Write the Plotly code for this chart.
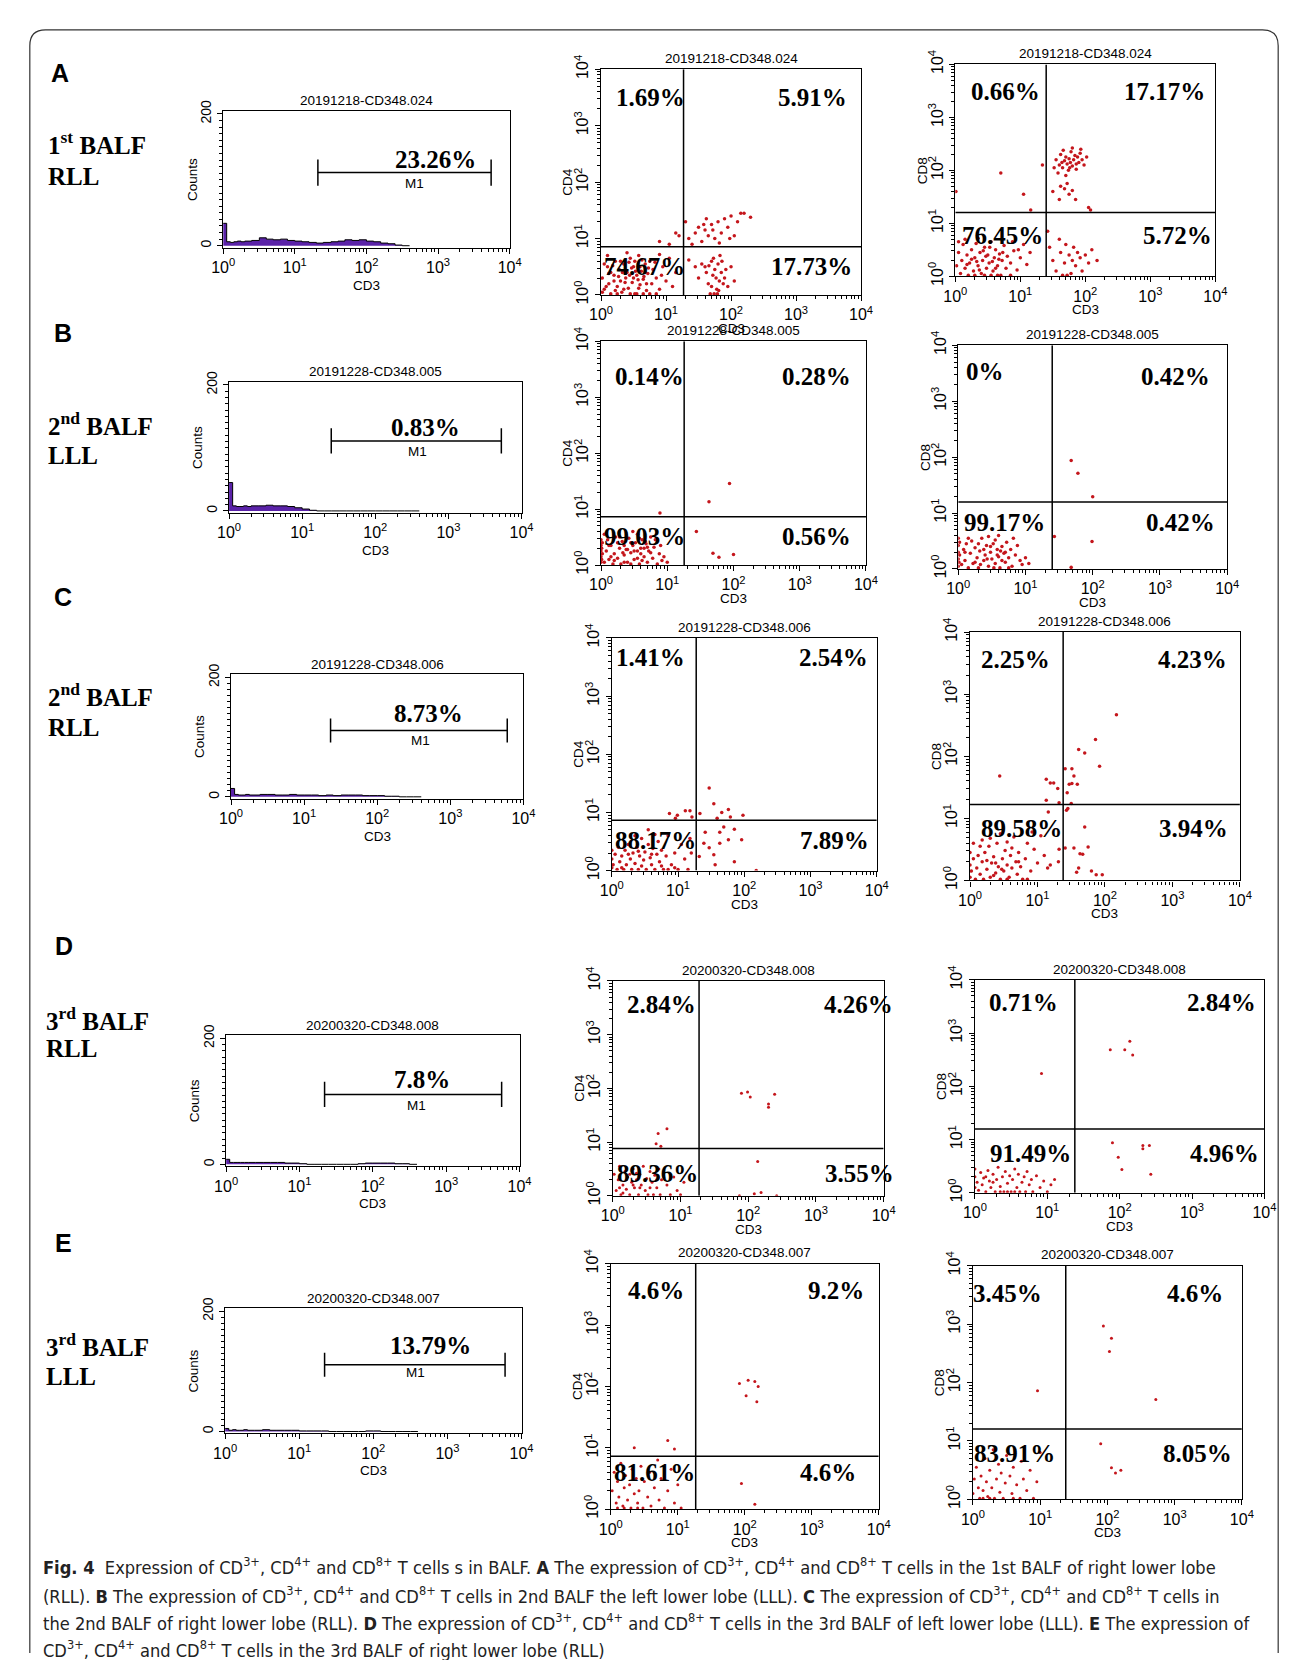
import plotly.graph_objects as go

# ============================ DATA ============================
rows = ["A", "B", "C", "D", "E"]
row_line1 = ["1<sup>st</sup> BALF", "2<sup>nd</sup> BALF", "2<sup>nd</sup> BALF", "3<sup>rd</sup> BALF", "3<sup>rd</sup> BALF"]
row_line2 = ["RLL", "LLL", "RLL", "RLL", "LLL"]
sample_ids = ["20191218-CD348.024", "20191228-CD348.005", "20191228-CD348.006",
              "20200320-CD348.008", "20200320-CD348.007"]

# histogram (CD3) bins and counts
hist_cd3 = [1.0, 1.12, 1.26, 1.41, 1.58, 1.78, 2.0, 2.5, 3.2, 4.0, 5.0, 6.3, 7.9, 10, 12.6,
            15.8, 20, 25, 32, 40, 50, 63, 79, 100, 126, 158, 200, 251, 316, 400]
hist_A = [34, 6, 5, 6, 7, 6, 7, 8, 12, 10, 9, 10, 8, 7, 6, 5, 4, 5, 6, 7, 9, 8, 9, 7, 6, 4, 3, 1, 0, 0]
hist_B = [45, 8, 7, 7, 8, 7, 8, 8, 9, 8, 8, 7, 5, 3, 1, 0, 0, 0, 0, 0, 0, 0, 0, 0, 0, 0, 0, 0, 0, 0]
hist_C = [14, 4, 3, 3, 4, 3, 3, 4, 4, 3, 3, 4, 3, 3, 3, 2, 3, 2, 3, 3, 3, 2, 2, 2, 1, 1, 0, 0, 0, 0]
hist_D = [8, 3, 3, 3, 3, 3, 3, 3, 3, 3, 3, 2, 2, 1, 0, 0, 0, 0, 0, 0, 0, 1, 2, 2, 2, 2, 1, 1, 0, 0]
hist_E = [5, 2, 3, 2, 2, 3, 2, 2, 3, 2, 2, 2, 2, 1, 1, 1, 1, 0, 0, 0, 0, 0, 1, 1, 0, 0, 0, 0, 0, 0]
hist_counts = [hist_A, hist_B, hist_C, hist_D, hist_E]
hist_pct = ["23.26%", "0.83%", "8.73%", "7.8%", "13.79%"]
m1_lo = [21, 25, 23, 22, 22]
m1_hi = [5500, 5300, 6000, 5700, 6000]

# quadrant gates (CD3 threshold, CD4/CD8 threshold)
gate_cd4_x = [18.6, 18.0, 18.8, 18.8, 18.5]
gate_cd4_y = [7.2, 7.3, 7.3, 7.6, 7.3]
gate_cd8_x = [25, 25, 24, 24, 24]
gate_cd8_y = [16, 15.8, 16.7, 15.9, 16]

# quadrant percentages: upper-left, upper-right, lower-left, lower-right
pct_cd4 = [["1.69%", "5.91%", "74.67%", "17.73%"],
           ["0.14%", "0.28%", "99.03%", "0.56%"],
           ["1.41%", "2.54%", "88.17%", "7.89%"],
           ["2.84%", "4.26%", "89.36%", "3.55%"],
           ["4.6%", "9.2%", "81.61%", "4.6%"]]
pct_cd8 = [["0.66%", "17.17%", "76.45%", "5.72%"],
           ["0%", "0.42%", "99.17%", "0.42%"],
           ["2.25%", "4.23%", "89.58%", "3.94%"],
           ["0.71%", "2.84%", "91.49%", "4.96%"],
           ["3.45%", "4.6%", "83.91%", "8.05%"]]

# events, as (log10 CD3, log10 CD4/CD8)
A_cd4 = [(0.02,0.30),(0.05,0.10),(0.10,0.50),(0.12,0.20),(0.15,0.02),(0.20,0.35),(0.22,0.60),(0.25,0.15),(0.28,0.45),(0.30,0.25),
         (0.32,0.05),(0.35,0.55),(0.38,0.30),(0.40,0.40),(0.42,0.12),(0.45,0.65),(0.48,0.22),(0.50,0.50),(0.52,0.02),(0.55,0.35),
         (0.58,0.70),(0.60,0.18),(0.62,0.42),(0.65,0.28),(0.68,0.55),(0.70,0.08),(0.72,0.38),(0.75,0.60),(0.78,0.20),(0.80,0.45),
         (0.85,0.30),(0.90,0.10),(0.95,0.50),(1.00,0.25),(1.05,0.65),(1.10,0.15),(0.05,0.55),(0.15,0.40),(0.25,0.02),(0.35,0.10),
         (0.45,0.02),(0.55,0.02),(0.65,0.02),(0.75,0.02),(0.85,0.02),(0.30,0.60),(0.40,0.75),(0.50,0.30),(0.60,0.50),(0.70,0.20),
         (0.20,0.25),(0.33,0.40),(0.47,0.48),(0.58,0.12),(0.66,0.33),(0.10,0.70),(0.90,0.72),(1.15,0.40),(0.52,0.60),(0.44,0.35),
         (0.08,0.15),(0.18,0.52),(0.27,0.33),(0.37,0.22),(0.43,0.58),(0.53,0.42),(0.63,0.62),(0.73,0.48),(0.83,0.58),(0.93,0.35),
         (0.02,0.05),(0.12,0.38),(0.22,0.08),(0.57,0.27),(0.68,0.40),
         (1.50,0.30),(1.60,0.50),(1.65,0.20),(1.70,0.60),(1.72,0.35),(1.75,0.45),(1.78,0.10),(1.80,0.55),(1.82,0.25),(1.85,0.40),
         (1.90,0.30),(1.95,0.15),(2.00,0.50),(1.68,0.02),(1.74,0.02),(1.79,0.02),(1.83,0.70),(1.62,0.40),(1.70,0.15),(1.77,0.30),
         (1.86,0.60),(1.92,0.45),(1.55,0.55),(1.45,0.50),(1.35,0.62),(2.05,0.25),(1.73,0.65),(1.81,0.08),(1.66,0.52),(1.88,0.20),
         (1.30,1.30),(1.35,1.00),(1.45,1.10),(1.50,1.20),(1.55,0.95),(1.60,1.15),(1.65,1.05),(1.70,1.25),(1.75,1.00),(1.80,1.30),
         (1.85,1.10),(1.90,1.35),(1.95,1.20),(2.00,1.40),(2.05,1.05),(2.10,1.30),(2.15,1.45),(2.20,1.45),(1.40,0.90),(1.58,1.25),
         (1.72,1.15),(1.82,0.92),(1.98,1.00),(2.30,1.38),(1.62,1.35),
         (0.90,0.95),(1.05,0.90),(1.15,1.10),(1.20,1.05)]
A_cd8 = [(0.02,0.20),(0.05,0.45),(0.08,0.05),(0.10,0.30),(0.12,0.60),(0.15,0.15),(0.18,0.40),(0.20,0.02),(0.22,0.25),(0.25,0.50),
         (0.28,0.10),(0.30,0.35),(0.32,0.62),(0.35,0.20),(0.38,0.45),(0.40,0.05),(0.42,0.30),(0.45,0.55),(0.48,0.15),(0.50,0.40),
         (0.52,0.25),(0.55,0.65),(0.58,0.10),(0.60,0.35),(0.62,0.50),(0.65,0.20),(0.68,0.42),(0.70,0.02),(0.72,0.30),(0.75,0.58),
         (0.78,0.15),(0.80,0.38),(0.85,0.25),(0.90,0.48),(0.95,0.12),(1.00,0.35),(1.05,0.60),(1.10,0.22),(0.15,0.70),(0.35,0.72),
         (0.55,0.02),(0.65,0.02),(0.45,0.02),(0.30,0.02),(0.85,0.02),(0.25,0.32),(0.47,0.38),(0.57,0.28),(0.37,0.12),(0.62,0.15),
         (0.73,0.45),(0.43,0.48),(0.53,0.55),(0.33,0.28),(0.67,0.32),(0.88,0.65),(0.97,0.50),(1.15,0.45),(0.05,0.65),(0.18,0.22),
         (1.55,2.20),(1.60,2.10),(1.62,2.30),(1.65,2.05),(1.68,2.18),(1.70,2.25),(1.72,2.12),(1.74,2.00),(1.75,2.22),(1.77,2.15),
         (1.78,2.35),(1.80,2.08),(1.82,2.20),(1.84,2.28),(1.86,2.12),(1.88,2.25),(1.90,2.15),(1.92,2.32),(1.95,2.20),(1.98,2.10),
         (2.02,2.25),(1.58,1.95),(1.70,1.90),(1.66,2.38),(1.80,2.42),(1.93,2.40),(1.52,2.05),(1.72,1.75),(1.68,1.65),(1.75,1.55),
         (1.62,1.70),(1.80,1.62),(1.60,1.45),(1.85,1.45),(2.05,1.30),(2.08,1.25),(1.50,1.60),(1.76,2.05),(1.64,2.15),(1.86,2.02),
         (0.70,1.95),(0.01,1.60),(1.34,2.10),(1.16,1.25),(1.05,1.55),
         (1.45,0.55),(1.50,0.30),(1.55,0.10),(1.62,0.45),(1.68,0.25),(1.70,0.60),(1.75,0.40),(1.78,0.05),(1.80,0.30),(1.82,0.55),
         (1.85,0.20),(1.88,0.45),(1.92,0.35),(1.95,0.10),(2.00,0.40),(2.05,0.25),(2.10,0.50),(2.18,0.30),(1.65,0.02),(1.72,0.02),
         (1.42,0.85),(1.60,0.70)]
B_cd4 = [(0.00,0.05),(0.00,0.15),(0.00,0.25),(0.00,0.35),(0.00,0.45),(0.01,0.10),(0.01,0.30),(0.02,0.20),(0.02,0.40),(0.05,0.05),
         (0.08,0.25),(0.10,0.45),(0.12,0.10),(0.15,0.35),(0.18,0.02),(0.20,0.20),(0.22,0.50),(0.25,0.12),(0.28,0.30),(0.30,0.02),
         (0.32,0.42),(0.35,0.18),(0.38,0.28),(0.40,0.05),(0.42,0.48),(0.45,0.22),(0.48,0.35),(0.50,0.10),(0.52,0.40),(0.55,0.25),
         (0.58,0.02),(0.60,0.30),(0.62,0.45),(0.65,0.15),(0.68,0.38),(0.70,0.05),(0.72,0.25),(0.75,0.50),(0.78,0.12),(0.80,0.32),
         (0.85,0.02),(0.88,0.20),(0.92,0.08),(0.95,0.15),(1.00,0.05),(0.15,0.15),(0.25,0.40),(0.35,0.05),(0.45,0.02),(0.55,0.55),
         (0.65,0.30),(0.45,0.40),(0.35,0.35),(0.55,0.12),(0.60,0.20),(0.70,0.32),(0.62,0.08),(0.28,0.50),(0.05,0.55),(0.12,0.35),
         (0.40,0.28),(0.50,0.25),(0.58,0.48),(0.67,0.42),(0.75,0.22),(0.20,0.08),(0.33,0.22),(0.82,0.45),(0.90,0.35),(0.48,0.60),
         (0.89,0.93),(1.44,0.60),(1.69,0.21),(1.78,0.14),(2.00,0.19),(1.63,1.13),(1.94,1.46)]
B_cd8 = [(0.00,0.05),(0.00,0.18),(0.00,0.30),(0.00,0.42),(0.00,0.55),(0.01,0.12),(0.02,0.25),(0.02,0.48),(0.05,0.08),(0.08,0.35),
         (0.10,0.15),(0.12,0.45),(0.15,0.02),(0.18,0.28),(0.20,0.50),(0.22,0.10),(0.25,0.38),(0.28,0.20),(0.30,0.02),(0.32,0.32),
         (0.35,0.55),(0.38,0.15),(0.40,0.25),(0.42,0.42),(0.45,0.05),(0.48,0.30),(0.50,0.18),(0.52,0.45),(0.55,0.10),(0.58,0.35),
         (0.60,0.22),(0.62,0.02),(0.65,0.40),(0.68,0.28),(0.70,0.12),(0.72,0.48),(0.75,0.20),(0.78,0.35),(0.80,0.05),(0.85,0.25),
         (0.88,0.42),(0.92,0.15),(0.95,0.08),(1.00,0.20),(1.05,0.10),(0.15,0.55),(0.30,0.45),(0.45,0.58),(0.55,0.52),(0.65,0.15),
         (0.48,0.40),(0.58,0.25),(0.63,0.32),(0.38,0.35),(0.25,0.12),(0.70,0.30),(0.75,0.02),(0.53,0.02),(0.43,0.18),(0.33,0.08),
         (0.82,0.55),(0.60,0.60),(0.10,0.30),
         (1.68,1.94),(1.78,1.71),(2.00,1.29),(1.43,0.58),(1.99,0.49),(1.68,0.03)]
C_cd4 = [(0.00,0.05),(0.00,0.20),(0.00,0.35),(0.02,0.10),(0.05,0.28),(0.08,0.02),(0.10,0.40),(0.12,0.15),(0.15,0.25),(0.18,0.02),
         (0.20,0.35),(0.22,0.10),(0.25,0.45),(0.28,0.20),(0.30,0.02),(0.32,0.30),(0.35,0.12),(0.38,0.40),(0.40,0.02),(0.42,0.25),
         (0.45,0.55),(0.48,0.18),(0.50,0.32),(0.52,0.02),(0.55,0.45),(0.58,0.22),(0.60,0.10),(0.62,0.38),(0.65,0.02),(0.68,0.28),
         (0.70,0.50),(0.72,0.15),(0.75,0.35),(0.78,0.02),(0.82,0.25),(0.85,0.60),(0.90,0.10),(0.95,0.30),(1.00,0.02),(1.05,0.45),
         (1.10,0.20),(0.35,0.60),(0.55,0.70),(0.65,0.62),(0.25,0.28),(0.40,0.33),(0.60,0.28),(0.15,0.05),(0.45,0.08),(0.75,0.08),
         (0.85,0.02),(0.95,0.05),(1.15,0.02),(1.20,0.30),(1.18,0.55),
         (1.47,1.42),(1.54,1.15),(1.66,1.00),(1.76,1.05),(1.98,0.95),(1.79,0.92),(1.33,0.98),(1.59,0.90),(1.41,0.66),(1.63,0.66),
         (1.69,0.75),(1.85,0.71),(1.76,0.53),(1.96,0.53),(1.63,0.47),(1.47,0.39),(1.54,0.27),(1.85,0.15),(1.56,0.10),(2.18,0.00),
         (1.32,0.24),(1.39,0.47),(0.87,0.98),(0.99,0.95),(1.11,1.03),(1.18,1.03),(1.21,0.92),(0.96,0.90)]
C_cd8 = [(0.00,0.05),(0.00,0.25),(0.00,0.45),(0.02,0.15),(0.05,0.35),(0.08,0.02),(0.10,0.20),(0.12,0.40),(0.15,0.10),(0.18,0.30),
         (0.20,0.02),(0.22,0.45),(0.25,0.18),(0.28,0.55),(0.30,0.05),(0.32,0.28),(0.35,0.38),(0.38,0.12),(0.40,0.60),(0.42,0.22),
         (0.45,0.02),(0.48,0.35),(0.50,0.15),(0.52,0.48),(0.55,0.25),(0.58,0.05),(0.60,0.40),(0.62,0.20),(0.65,0.70),(0.68,0.30),
         (0.70,0.10),(0.72,0.45),(0.75,0.22),(0.78,0.02),(0.82,0.35),(0.85,0.60),(0.90,0.15),(0.95,0.50),(1.00,0.28),(1.05,0.72),
         (1.10,0.40),(0.30,0.68),(0.45,0.75),(0.55,0.62),(0.25,0.32),(0.38,0.28),(0.15,0.55),(0.62,0.52),(0.72,0.30),(0.47,0.18),
         (0.35,0.08),(0.55,0.02),(0.18,0.65),(0.85,0.02),(1.15,0.20),(0.92,0.78),(0.05,0.60),
         (2.17,2.67),(1.86,2.27),(1.61,2.11),(1.70,2.05),(1.92,1.84),(1.41,1.80),(1.51,1.80),(1.54,1.68),(1.47,1.55),(1.51,1.56),
         (1.59,1.55),(1.44,1.41),(1.50,1.24),(1.43,1.13),(1.45,1.16),(0.44,1.68),(1.13,1.63),(1.19,1.57),(1.24,1.57),(1.30,1.48),
         (1.13,1.29),(1.32,1.25),(1.70,0.86),(1.54,0.52),(1.63,0.43),(1.75,0.54),(1.67,0.42),(1.61,0.20),(1.58,0.13),(1.80,0.15),
         (1.87,0.09),(1.96,0.09),(1.41,0.52),(1.16,1.10),(1.32,0.50),(1.31,0.30),(1.19,0.25)]
D_cd4 = [(0.02,0.40),(0.05,0.10),(0.08,0.30),(0.10,0.55),(0.12,0.02),(0.15,0.20),(0.18,0.45),(0.20,0.12),(0.22,0.35),(0.25,0.02),
         (0.28,0.25),(0.30,0.50),(0.32,0.15),(0.35,0.30),(0.38,0.02),(0.40,0.40),(0.42,0.20),(0.45,0.55),(0.48,0.10),(0.50,0.32),
         (0.52,0.02),(0.55,0.45),(0.58,0.25),(0.60,0.02),(0.62,0.38),(0.65,0.15),(0.68,0.50),(0.70,0.02),(0.72,0.30),(0.75,0.42),
         (0.80,0.20),(0.85,0.02),(0.90,0.35),(0.95,0.10),(1.00,0.02),(1.05,0.25),(0.30,0.20),(0.40,0.15),(0.35,0.42),(0.20,0.30),
         (0.15,0.05),(0.55,0.15),(0.65,0.30),(0.25,0.40),(0.10,0.15),
         (1.90,1.91),(1.99,1.93),(2.03,1.84),(2.30,1.71),(2.30,1.65),(2.39,1.89),(2.14,0.64),(1.87,0.00),(2.09,0.04),(2.19,0.06),
         (2.42,0.00),(0.67,1.16),(0.80,1.25),(0.64,0.97),(0.71,0.92)]
D_cd8 = [(0.00,0.10),(0.00,0.30),(0.00,0.45),(0.03,0.20),(0.05,0.05),(0.08,0.38),(0.10,0.15),(0.12,0.28),(0.15,0.02),(0.18,0.42),
         (0.20,0.22),(0.22,0.10),(0.25,0.35),(0.28,0.02),(0.30,0.25),(0.32,0.48),(0.35,0.12),(0.38,0.30),(0.40,0.02),(0.42,0.40),
         (0.45,0.18),(0.48,0.32),(0.50,0.02),(0.52,0.25),(0.55,0.45),(0.58,0.10),(0.60,0.35),(0.62,0.02),(0.65,0.20),(0.68,0.30),
         (0.70,0.02),(0.72,0.40),(0.75,0.15),(0.78,0.25),(0.80,0.02),(0.85,0.32),(0.90,0.10),(0.95,0.22),(1.00,0.02),(1.05,0.15),
         (1.10,0.25),(0.45,0.02),(0.55,0.02),(0.35,0.02),(0.25,0.20),(0.15,0.30),
         (1.87,2.69),(2.07,2.69),(2.14,2.85),(2.18,2.59),(0.92,2.24),(1.90,0.94),(2.32,0.89),(2.32,0.83),(2.41,0.89),(1.98,0.67),
         (2.03,0.44),(2.43,0.35)]
E_cd4 = [(0.02,0.30),(0.05,0.60),(0.08,0.10),(0.10,0.45),(0.12,0.20),(0.15,0.75),(0.18,0.05),(0.20,0.35),(0.22,0.55),(0.25,0.15),
         (0.28,0.40),(0.30,0.02),(0.32,0.65),(0.35,0.25),(0.38,0.50),(0.40,0.10),(0.42,0.30),(0.45,0.70),(0.48,0.02),(0.50,0.45),
         (0.55,0.20),(0.58,0.60),(0.60,0.05),(0.65,0.35),(0.70,0.80),(0.72,0.15),(0.75,0.50),(0.80,0.02),(0.85,0.30),(0.90,0.65),
         (0.95,0.10),(1.00,0.40),(1.05,0.02),(0.10,0.02),(0.20,0.02),(0.40,0.02),
         (1.92,2.05),(2.05,2.10),(2.15,2.08),(2.20,2.00),(2.02,1.85),(2.18,1.75),(0.35,1.00),(0.85,1.12),(0.95,0.98),(1.95,0.42),
         (2.15,0.08)]
E_cd8 = [(0.00,0.10),(0.02,0.35),(0.05,0.55),(0.08,0.20),(0.10,0.02),(0.12,0.40),(0.15,0.15),(0.18,0.70),(0.20,0.30),(0.22,0.05),
         (0.25,0.50),(0.28,0.20),(0.30,0.85),(0.32,0.02),(0.35,0.35),(0.38,0.60),(0.40,0.12),(0.42,0.45),(0.45,0.02),(0.48,0.28),
         (0.50,0.75),(0.55,0.40),(0.58,0.10),(0.60,0.55),(0.65,0.25),(0.70,0.02),(0.72,0.65),(0.75,0.35),(0.80,0.15),(0.85,0.50),
         (0.90,0.02),(0.95,0.30),(1.00,0.80),(0.15,0.02),(0.25,0.02),(0.60,0.02),
         (1.94,2.97),(2.06,2.76),(2.03,2.53),(2.72,1.71),(0.96,1.86),(2.06,0.54),(2.12,0.45),(2.20,0.50),(1.90,0.95)]
events_cd4 = [A_cd4, B_cd4, C_cd4, D_cd4, E_cd4]
events_cd8 = [A_cd8, B_cd8, C_cd8, D_cd8, E_cd8]

log_ticks = [1, 10, 100, 1000, 10000]
log_ticktext = ["10<sup>0</sup>", "10<sup>1</sup>", "10<sup>2</sup>", "10<sup>3</sup>", "10<sup>4</sup>"]

caption_lines = [
    "<b>Fig. 4</b>  Expression of CD<sup>3+</sup>, CD<sup>4+</sup> and CD<sup>8+</sup> T cells s in BALF. <b>A</b> The expression of CD<sup>3+</sup>, CD<sup>4+</sup> and CD<sup>8+</sup> T cells in the 1st BALF of right lower lobe",
    "(RLL). <b>B</b> The expression of CD<sup>3+</sup>, CD<sup>4+</sup> and CD<sup>8+</sup> T cells in 2nd BALF the left lower lobe (LLL). <b>C</b> The expression of CD<sup>3+</sup>, CD<sup>4+</sup> and CD<sup>8+</sup> T cells in",
    "the 2nd BALF of right lower lobe (RLL). <b>D</b> The expression of CD<sup>3+</sup>, CD<sup>4+</sup> and CD<sup>8+</sup> T cells in the 3rd BALF of left lower lobe (LLL). <b>E</b> The expression of",
    "CD<sup>3+</sup>, CD<sup>4+</sup> and CD<sup>8+</sup> T cells in the 3rd BALF of right lower lobe (RLL)",
]

# ============================ LAYOUT (pixels) ============================
W, H = 1292, 1660
box_hist = [(207, 499, 90, 229), (213, 511, 365, 498), (215, 513, 662, 788), (210, 509, 1028, 1161), (209, 511, 1305, 1432)]
box_cd4 = [(592, 857, 48, 277), (592, 862, 324, 551), (603, 873, 625, 861), (604, 880, 973, 1191), (602, 875, 1260, 1509)]
box_cd8 = [(953, 1218, 43, 258), (956, 1230, 328, 555), (968, 1243, 619, 871), (973, 1268, 972, 1188), (971, 1245, 1262, 1499)]
row_letter_pos = [(41, 52), (44, 316), (44, 583), (45, 938), (44, 1239)]
row_text_pos = [(27, 123, 157), (27, 408, 440), (27, 683, 716), (24, 1012, 1042), (24, 1342, 1374)]
hist_pct_pos = [(423, 140), (413, 411), (416, 702), (410, 1073), (418, 1343)]
m1_pos = [(402, 164), (405, 436), (408, 729), (404, 1099), (403, 1370)]
pct_cd4_pos = [[(642, 77), (808, 77), (636, 248), (806, 248)],
               [(641, 360), (812, 360), (636, 522), (812, 522)],
               [(642, 645), (829, 645), (648, 830), (830, 830)],
               [(654, 997), (854, 997), (650, 1168), (855, 1168)],
               [(648, 1287), (831, 1287), (646, 1472), (823, 1472)]]
pct_cd8_pos = [[(1004, 71), (1166, 71), (1001, 217), (1179, 217)],
               [(983, 355), (1177, 360), (1003, 508), (1182, 508)],
               [(1014, 647), (1195, 647), (1020, 818), (1196, 818)],
               [(1023, 995), (1224, 995), (1030, 1148), (1227, 1148)],
               [(1006, 1290), (1197, 1290), (1013, 1453), (1200, 1453)]]
caption_y = [1567, 1596, 1623, 1651]
dot_size = [3.5, 3.5, 3.5, 3, 3]
M1_LEVEL, M1_TICK = 111, 20

SANS = "Liberation Sans, Arial, sans-serif"
SERIF = "Liberation Serif, Times New Roman, serif"
NARROW = "Liberation Sans Narrow, DejaVu Sans Condensed, Arial Narrow, sans-serif"
DOT_RED = "#c4161c"
PURPLE = "#5a22a8"


def px(x):
    return x / W


def py(y):
    return 1 - y / H


def ann(text, x, y, size, family=SANS, xanchor="center", yanchor="middle", angle=0, color="black"):
    return dict(text=text, x=px(x), y=py(y), xref="paper", yref="paper", showarrow=False,
                xanchor=xanchor, yanchor=yanchor, textangle=angle,
                font=dict(family=family, size=size, color=color))


fig = go.Figure()
layout = dict(width=W, height=H, margin=dict(l=0, r=0, t=0, b=0), paper_bgcolor="white",
              plot_bgcolor="white", showlegend=False)
annotations = []
shapes = []

base_axis = dict(showline=True, linecolor="black", linewidth=1.3, mirror=True, ticks="outside",
                 ticklen=5, tickwidth=1, tickcolor="black", showgrid=False, zeroline=False,
                 tickfont=dict(family=SANS, size=16, color="black"))
log_axis = dict(base_axis, type="log", range=[0, 4], tickmode="array", tickvals=log_ticks,
                ticktext=log_ticktext,
                minor=dict(ticks="outside", ticklen=3, tickcolor="black", dtick="D1", showgrid=False))

axis_n = [0]


def new_axes(box, xa, ya):
    axis_n[0] += 1
    n = axis_n[0]
    s = "" if n == 1 else str(n)
    l, r, t, b = box
    layout["xaxis" + s] = dict(xa, domain=[px(l), px(r)], anchor="y" + s)
    layout["yaxis" + s] = dict(ya, domain=[py(b), py(t)], anchor="x" + s)
    return "x" + s, "y" + s


for i in range(5):
    # ---------- histogram ----------
    hist_y_axis = dict(base_axis, range=[-3, 205], tickmode="array", tickvals=[0, 200], tickangle=-90,
                       tickfont=dict(family=SANS, size=14, color="black"),
                       minor=dict(ticks="outside", ticklen=3, tickcolor="black", tickmode="linear",
                                  tick0=0, dtick=10, showgrid=False))
    xr, yr = new_axes(box_hist[i], log_axis, hist_y_axis)
    fig.add_trace(go.Scatter(x=hist_cd3, y=hist_counts[i], mode="lines", xaxis=xr, yaxis=yr,
                             line=dict(shape="hv", color="black", width=1), fill="tozeroy",
                             fillcolor=PURPLE, hoverinfo="skip"))
    lo, hi = m1_lo[i], m1_hi[i]
    fig.add_trace(go.Scatter(x=[lo, lo, None, lo, hi, None, hi, hi],
                             y=[M1_LEVEL - M1_TICK, M1_LEVEL + M1_TICK, None, M1_LEVEL, M1_LEVEL, None,
                                M1_LEVEL - M1_TICK, M1_LEVEL + M1_TICK],
                             mode="lines", line=dict(color="black", width=1.5), xaxis=xr, yaxis=yr,
                             hoverinfo="skip"))
    l, r, t, b = box_hist[i]
    annotations.append(ann(sample_ids[i], (l + r) / 2, t - 10, 13.5))
    annotations.append(ann("CD3", (l + r) / 2, b + 38, 13.5))
    annotations.append(ann("Counts", l - 32, (t + b) / 2, 13.5, angle=-90))
    annotations.append(ann("<b>" + hist_pct[i] + "</b>", hist_pct_pos[i][0], hist_pct_pos[i][1], 25, family=SERIF))
    annotations.append(ann("M1", m1_pos[i][0], m1_pos[i][1], 13.5))

    # ---------- dot plots ----------
    for box, ev, gx, gy, pcts, ppos, ylab in [
        (box_cd4[i], events_cd4[i], gate_cd4_x[i], gate_cd4_y[i], pct_cd4[i], pct_cd4_pos[i], "CD4"),
        (box_cd8[i], events_cd8[i], gate_cd8_x[i], gate_cd8_y[i], pct_cd8[i], pct_cd8_pos[i], "CD8"),
    ]:
        xr, yr = new_axes(box, log_axis, dict(log_axis, tickangle=-90))
        fig.add_trace(go.Scatter(x=[10 ** e[0] for e in ev], y=[10 ** e[1] for e in ev], mode="markers",
                                 marker=dict(size=dot_size[i], color=DOT_RED, line=dict(width=0)),
                                 xaxis=xr, yaxis=yr, hoverinfo="skip"))
        fig.add_trace(go.Scatter(x=[gx, gx, None, 1, 10000], y=[1, 10000, None, gy, gy], mode="lines",
                                 line=dict(color="black", width=1.5), xaxis=xr, yaxis=yr, hoverinfo="skip"))
        l, r, t, b = box
        annotations.append(ann(sample_ids[i], (l + r) / 2, t - 11, 13.5))
        annotations.append(ann("CD3", (l + r) / 2, b + 34, 13.5))
        annotations.append(ann(ylab, l - 34, (t + b) / 2, 13.5, angle=-90))
        for txt, (ax_, ay_) in zip(pcts, ppos):
            annotations.append(ann("<b>" + txt + "</b>", ax_, ay_, 25, family=SERIF))

    # ---------- row labels ----------
    lx, ly = row_letter_pos[i]
    annotations.append(ann("<b>" + rows[i] + "</b>", lx, ly, 25, family=SANS))
    tx, y1, y2 = row_text_pos[i]
    annotations.append(ann("<b>" + row_line1[i] + "</b>", tx, y1, 25, family=SERIF, xanchor="left"))
    annotations.append(ann("<b>" + row_line2[i] + "</b>", tx, y2, 25, family=SERIF, xanchor="left"))

for line, y in zip(caption_lines, caption_y):
    annotations.append(ann(line, 21, y, 18.1, family=NARROW, xanchor="left", color="#222222"))

# rounded outer frame
L, T, R, B, rad = 10, 8, 1282, 1655, 16
path = (f"M {px(L)} {py(B)} L {px(L)} {py(T + rad)} Q {px(L)} {py(T)} {px(L + rad)} {py(T)} "
        f"L {px(R - rad)} {py(T)} Q {px(R)} {py(T)} {px(R)} {py(T + rad)} L {px(R)} {py(B)}")
shapes.append(dict(type="path", path=path, xref="paper", yref="paper",
                   line=dict(color="#333333", width=1.2)))

layout["annotations"] = annotations
layout["shapes"] = shapes
fig.update_layout(**layout)
fig.write_html("out.html")
